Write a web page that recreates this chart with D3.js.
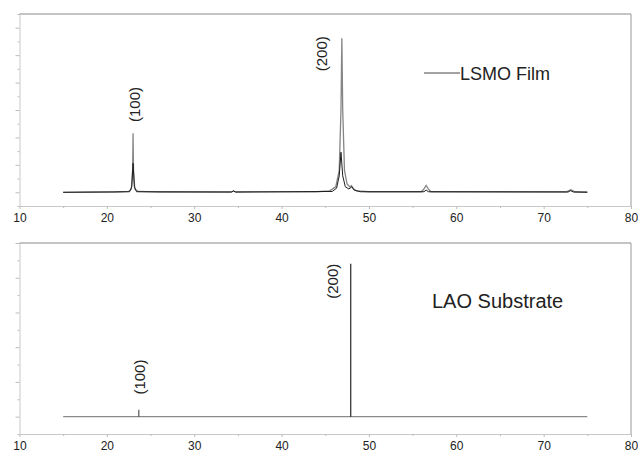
<!DOCTYPE html>
<html>
<head>
<meta charset="utf-8">
<style>
  body { margin: 0; background: #fff; }
  text { font-family: "Liberation Sans", Arial, sans-serif; fill: #222; }
</style>
</head>
<body>
<svg width="638" height="452"></svg>
<script src="https://cdnjs.cloudflare.com/ajax/libs/d3/7.8.5/d3.min.js"></script>
<script>

// 2theta (deg) / intensity (a.u.)
const filmGrayX = [15, 21, 22.5, 22.8, 22.95, 23.0, 23.05, 23.2, 23.6, 26, 34.2, 34.5, 34.8, 44, 45.5, 46.2, 46.6, 46.8, 46.9, 47.0, 47.2, 47.5, 47.8, 48.0, 48.2, 48.6, 50, 56, 56.25, 56.55, 56.85, 57.1, 72.6, 73.1, 73.6, 75];
const filmGrayY = [0, 0.01, 0.03, 0.12, 0.8, 2.15, 0.8, 0.12, 0.03, 0.01, 0.01, 0.05, 0.01, 0.02, 0.05, 0.2, 0.8, 3.0, 5.62, 3.0, 0.8, 0.3, 0.2, 0.24, 0.14, 0.05, 0.02, 0.02, 0.1, 0.25, 0.1, 0.02, 0.02, 0.09, 0.02, 0.01];

const filmBlackX = [15, 22.6, 22.85, 23.0, 23.15, 23.4, 34.3, 34.5, 34.7, 45.8, 46.3, 46.6, 46.8, 47.0, 47.3, 47.7, 48.05, 48.3, 49, 56.3, 56.55, 56.8, 72.8, 73.1, 73.4, 75];
const filmBlackY = [0, 0.02, 0.2, 1.06, 0.2, 0.02, 0.01, 0.05, 0.01, 0.03, 0.15, 0.6, 1.46, 0.6, 0.2, 0.12, 0.2, 0.08, 0.02, 0.02, 0.08, 0.02, 0.01, 0.06, 0.01, 0];

const substrateRange = [15, 75];
const substratePeakX = [23.66, 47.92];
const substratePeakY = [0.2, 4.4];

const filmLabels = ["(100)", "(200)"];
const filmLabelX = [23.77, 45.15];
const filmLabelY = [3.2, 5.05];
const subLabels = ["(100)", "(200)"];
const subLabelX = [24.34, 46.51];
const subLabelY = [1.14, 3.9];

const xTicks = [10, 20, 30, 40, 50, 60, 70, 80];
const xMinor = [15, 25, 35, 45, 55, 65, 75];

const svg = d3.select("svg");

const x = d3.scaleLinear().domain([10, 80]).range([19.5, 631]);
const yTop = d3.scaleLinear().domain([-0.5, 6.5]).range([206, 14]);
const yBot = d3.scaleLinear().domain([-0.5, 5]).range([434, 243]);

function frame(y, majors, minors) {
  const g = svg.append("g");
  const [y0, y1] = y.range();
  // x axis
  const ax = g.append("g").attr("transform", "translate(0," + y0 + ")")
    .call(d3.axisBottom(x).tickValues(xTicks).tickSize(3).tickPadding(4).tickSizeOuter(0));
  ax.select(".domain").attr("stroke", "#c8c8c8");
  ax.selectAll(".tick line").attr("stroke", "#bbb");
  ax.selectAll("text").attr("font-size", 12).attr("font-family", "Liberation Sans, Arial, sans-serif").attr("fill", "#222");
  const axm = g.append("g").attr("transform", "translate(0," + y0 + ")")
    .call(d3.axisBottom(x).tickValues(xMinor).tickSize(2).tickFormat("").tickSizeOuter(0));
  axm.select(".domain").remove();
  axm.selectAll(".tick line").attr("stroke", "#bbb");
  // y axis, no labels
  const ay = g.append("g").attr("transform", "translate(" + x(10) + ",0)")
    .call(d3.axisLeft(y).tickValues(majors).tickSize(4).tickFormat("").tickSizeOuter(0));
  ay.select(".domain").attr("stroke", "#c8c8c8");
  ay.selectAll(".tick line").attr("stroke", "#bbb");
  const aym = g.append("g").attr("transform", "translate(" + x(10) + ",0)")
    .call(d3.axisLeft(y).tickValues(minors).tickSize(2).tickFormat("").tickSizeOuter(0));
  aym.select(".domain").remove();
  aym.selectAll(".tick line").attr("stroke", "#bbb");
  // top + right border
  g.append("line").attr("x1", x(10)).attr("x2", x(80)).attr("y1", y1).attr("y2", y1)
    .attr("stroke", "#8a8a8a").attr("stroke-width", 1.2);
  g.append("line").attr("x1", x(80)).attr("x2", x(80)).attr("y1", y1).attr("y2", y0)
    .attr("stroke", "#999").attr("stroke-width", 1);
}

frame(yTop, d3.range(0, 7), d3.range(-0.5, 6.6, 1));
frame(yBot, d3.range(0, 6), d3.range(-0.5, 5.1, 1));

// film curves
const lineTop = d3.line().x(d => x(d[0])).y(d => yTop(d[1]));
svg.append("path").datum(d3.zip(filmGrayX, filmGrayY))
  .attr("d", lineTop).attr("fill", "none").attr("stroke", "#858585").attr("stroke-width", 1.3);
svg.append("path").datum(d3.zip(filmBlackX, filmBlackY))
  .attr("d", lineTop).attr("fill", "none").attr("stroke", "#1e1e1e").attr("stroke-width", 1);

// substrate baseline + sticks
svg.append("line").attr("x1", x(substrateRange[0])).attr("x2", x(substrateRange[1]))
  .attr("y1", yBot(0)).attr("y2", yBot(0)).attr("stroke", "#8a8a8a").attr("stroke-width", 1.3);
svg.selectAll(".stick").data(d3.zip(substratePeakX, substratePeakY)).enter().append("line")
  .attr("x1", d => x(d[0])).attr("x2", d => x(d[0]))
  .attr("y1", yBot(0)).attr("y2", d => yBot(d[1]))
  .attr("stroke", (d, i) => i === 0 ? "#444" : "#111").attr("stroke-width", 1.1);

// peak labels
function peakLabels(texts, xs, ys, y) {
  svg.selectAll(null).data(texts).enter().append("text")
    .attr("transform", (d, i) => "translate(" + x(xs[i]) + "," + y(ys[i]) + ") rotate(-90)")
    .attr("text-anchor", "middle").attr("font-size", 15).text(d => d);
}
peakLabels(filmLabels, filmLabelX, filmLabelY, yTop);
peakLabels(subLabels, subLabelX, subLabelY, yBot);

// legends
svg.append("line").attr("x1", 424).attr("x2", 460).attr("y1", 73).attr("y2", 73)
  .attr("stroke", "#858585").attr("stroke-width", 1.3);
svg.append("text").attr("x", 460).attr("y", 80).attr("font-size", 18).text("LSMO Film");
svg.append("text").attr("x", 432).attr("y", 308).attr("font-size", 20).text("LAO Substrate");

</script>
</body>
</html>
